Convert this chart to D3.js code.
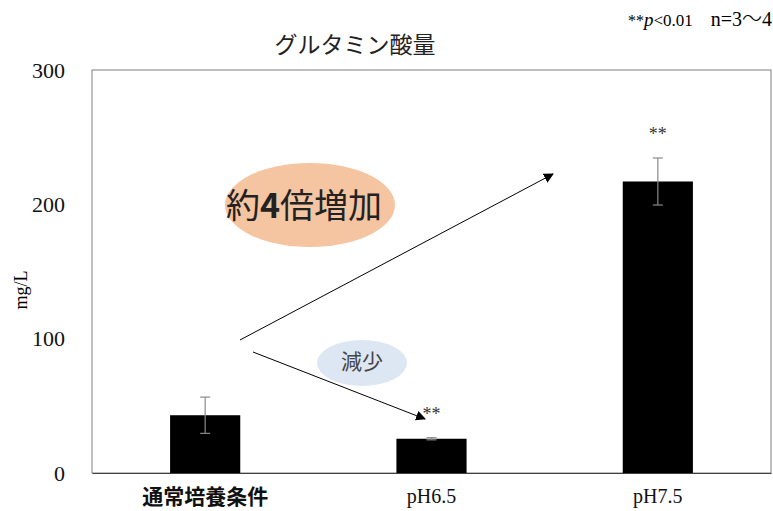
<!DOCTYPE html>
<html><head><meta charset="utf-8">
<script src="https://cdn.jsdelivr.net/npm/d3@7"></script>
<style>body{margin:0;background:#fff}</style>
</head><body>
<svg id="c" width="773" height="511"></svg>
<script>
const categories = ["通常培養条件", "pH6.5", "pH7.5"];
const values = [43, 25.5, 217];
const errors = [13.5, 0.8, 17.5];
const stars = ["", "**", "**"];
const yTicks = [0, 100, 200, 300];
const title = "グルタミン酸量";
const yLabel = "mg/L";

const svg = d3.select("#c");
const m = {left: 92, right: 771, top: 70, bottom: 473};
const x = d3.scaleBand().domain(categories).range([m.left, m.right]).paddingInner(0.69).paddingOuter(0.345);
const y = d3.scaleLinear().domain([0, 300]).range([m.bottom, m.top]);
const serif = "'Liberation Serif','Times New Roman',serif";
const jp = "'Noto Sans CJK JP',sans-serif";

// frame
svg.append("rect").attr("x", m.left).attr("y", m.top).attr("width", m.right - m.left).attr("height", m.bottom - m.top)
  .attr("fill", "none").attr("stroke", "#7f7f7f").attr("stroke-width", 1);

// y axis labels
const yAxis = d3.axisLeft(y).tickValues(yTicks).tickSize(0).tickPadding(27);
const ya = svg.append("g").attr("transform", `translate(${m.left},0)`).call(yAxis);
ya.select(".domain").remove();
ya.selectAll("text").attr("font-family", serif).attr("font-size", 22).attr("fill", "#111");

// x axis
const xAxis = d3.axisBottom(x).tickSize(0).tickPadding(16);
const xa = svg.append("g").attr("transform", `translate(0,${m.bottom})`).call(xAxis);
xa.select(".domain").attr("stroke", "#404040");
xa.selectAll("text").attr("fill", "#111")
  .attr("font-family", (d, i) => i === 0 ? jp : serif)
  .attr("font-weight", (d, i) => i === 0 ? "bold" : "normal")
  .attr("font-size", (d, i) => i === 0 ? 21 : 20);

// bars
svg.selectAll(".bar").data(values).enter().append("rect")
  .attr("x", (d, i) => x(categories[i])).attr("y", d => y(d))
  .attr("width", x.bandwidth()).attr("height", d => y(0) - y(d)).attr("fill", "#000");

// error bars
const eb = svg.selectAll(".eb").data(values).enter().append("g").attr("stroke", "#8a8a8a").attr("stroke-width", 1.2);
eb.append("line").attr("x1", (d, i) => x(categories[i]) + x.bandwidth() / 2).attr("x2", (d, i) => x(categories[i]) + x.bandwidth() / 2)
  .attr("y1", (d, i) => y(d + errors[i])).attr("y2", (d, i) => y(d - errors[i]));
[1, -1].forEach(s => {
  eb.append("line").attr("x1", (d, i) => x(categories[i]) + x.bandwidth() / 2 - 5).attr("x2", (d, i) => x(categories[i]) + x.bandwidth() / 2 + 5)
    .attr("y1", (d, i) => y(d + s * errors[i])).attr("y2", (d, i) => y(d + s * errors[i]));
});

// stars
svg.selectAll(".st").data(values).enter().append("text")
  .attr("x", (d, i) => x(categories[i]) + x.bandwidth() / 2)
  .attr("y", (d, i) => y(d + errors[i]) - 18)
  .attr("text-anchor", "middle").attr("font-family", serif).attr("font-size", 18).attr("fill", "#333")
  .text((d, i) => stars[i]);

// title
svg.append("text").attr("x", 355).attr("y", 53).attr("text-anchor", "middle")
  .attr("font-family", jp).attr("font-size", 23).attr("fill", "#222").text(title);

// note
const note = svg.append("text").attr("x", 772).attr("y", 26).attr("text-anchor", "end")
  .attr("font-family", serif).attr("font-size", 18).attr("fill", "#000");
note.append("tspan").attr("font-size", 16).text("**");
note.append("tspan").attr("font-style", "italic").attr("font-size", 19).text("p");
note.append("tspan").attr("font-size", 17).text("<0.01");
note.append("tspan").attr("dx", 18).attr("font-size", 20).text("n=3");
note.append("tspan").attr("font-size", 20).attr("font-family", "'Noto Sans CJK JP'").attr("font-weight", 300).text("〜");
note.append("tspan").attr("font-size", 20).text("4");

// y label
svg.append("text").attr("transform", "translate(27,290) rotate(-90)").attr("text-anchor", "middle")
  .attr("font-family", serif).attr("font-size", 18).attr("fill", "#000").text(yLabel);

// arrows
const defs = svg.append("defs");
defs.append("marker").attr("id", "ah").attr("viewBox", "0 0 10 10").attr("refX", 9).attr("refY", 5)
  .attr("markerWidth", 10).attr("markerHeight", 10).attr("markerUnits", "userSpaceOnUse").attr("orient", "auto")
  .append("path").attr("d", "M0,0 L10,5 L0,10 z").attr("fill", "#000");
svg.append("line").attr("x1", 240).attr("y1", 340).attr("x2", 553).attr("y2", 174)
  .attr("stroke", "#000").attr("stroke-width", 1).attr("marker-end", "url(#ah)");
svg.append("line").attr("x1", 253).attr("y1", 352).attr("x2", 425).attr("y2", 419)
  .attr("stroke", "#000").attr("stroke-width", 1).attr("marker-end", "url(#ah)");

// ellipses
svg.append("ellipse").attr("cx", 310).attr("cy", 205).attr("rx", 85).attr("ry", 42).attr("fill", "#f5c4a1");
const t1 = svg.append("text").attr("x", 304).attr("y", 218).attr("text-anchor", "middle").attr("font-family", jp)
  .attr("font-size", 34).attr("fill", "#222");
t1.append("tspan").text("約");
t1.append("tspan").attr("font-weight", "bold").text("4");
t1.append("tspan").text("倍増加");
svg.append("ellipse").attr("cx", 362).attr("cy", 363).attr("rx", 45).attr("ry", 23).attr("fill", "#dde7f3");
svg.append("text").attr("x", 362).attr("y", 369).attr("text-anchor", "middle").attr("font-family", jp)
  .attr("font-size", 21).attr("fill", "#444").text("減少");
</script>
</body></html>
